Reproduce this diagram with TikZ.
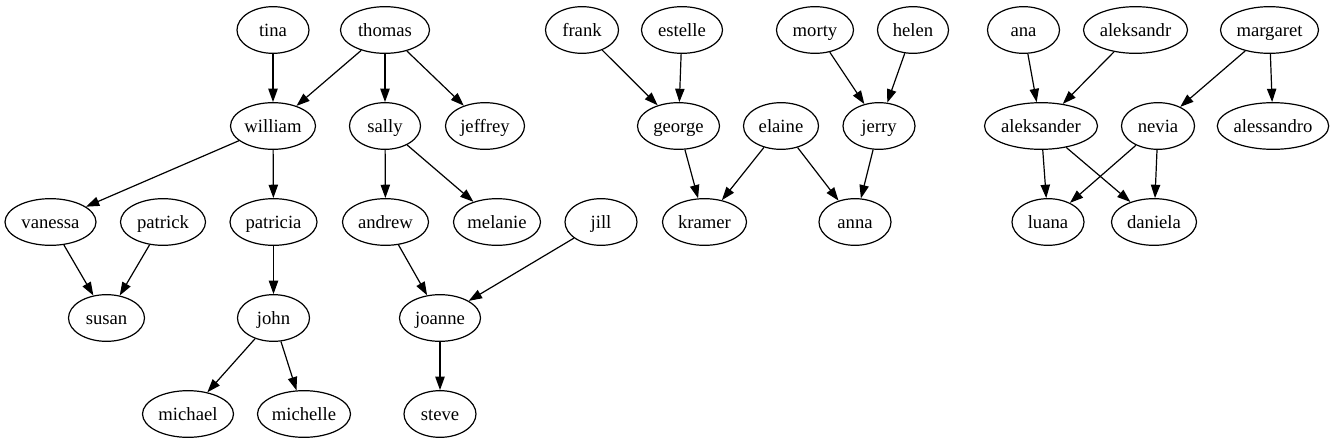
\documentclass[tikz,border=0pt]{standalone}
\usepackage{fontspec}
\setmainfont{Liberation Serif}
\usetikzlibrary{arrows.meta,shapes.geometric}
\begin{document}
\begin{tikzpicture}[x=0.75pt,y=-0.75pt,
  person/.style={ellipse,draw,line width=0.9pt,inner sep=0pt,minimum height=35pt,
    text height=11pt,text depth=1.4pt,
    font=\rmfamily\fontsize{14}{16}\selectfont},
  wd/.style={minimum width=#1*0.75pt},
  link/.style={line width=0.9pt,-{Triangle[length=10pt,width=7pt]}}]
\useasboundingbox (0,0) rectangle (1335,443);
% rank 1
\node[person,wd=72] (tina) at (273,30) {tina};
\node[person,wd=89] (thomas) at (385,30) {thomas};
\node[person,wd=73] (frank) at (582,30) {frank};
\node[person,wd=81] (estelle) at (682,30) {estelle};
\node[person,wd=77] (morty) at (815,30) {morty};
\node[person,wd=71] (helen) at (913,30) {helen};
\node[person,wd=72] (ana) at (1023.5,30) {ana};
\node[person,wd=104] (aleksandr) at (1135.5,30) {aleksandr};
\node[person,wd=98] (margaret) at (1269.5,30) {margaret};
% rank 2
\node[person,wd=85] (william) at (273,126) {william};
\node[person,wd=71] (sally) at (385,126) {sally};
\node[person,wd=79] (jeffrey) at (485,126) {jeffrey};
\node[person,wd=82] (george) at (678.5,126) {george};
\node[person,wd=75] (elaine) at (781,126) {elaine};
\node[person,wd=72] (jerry) at (879,126) {jerry};
\node[person,wd=113] (aleksander) at (1041,126) {aleksander};
\node[person,wd=73] (nevia) at (1158,126) {nevia};
\node[person,wd=111] (alessandro) at (1273,126) {alessandro};
% rank 3
\node[person,wd=91] (vanessa) at (50.5,222) {vanessa};
\node[person,wd=85] (patrick) at (163,222) {patrick};
\node[person,wd=87] (patricia) at (273.5,222) {patricia};
\node[person,wd=86] (andrew) at (385.5,222) {andrew};
\node[person,wd=87] (melanie) at (497,222) {melanie};
\node[person,wd=72] (jill) at (601,222) {jill};
\node[person,wd=84] (kramer) at (704.5,222) {kramer};
\node[person,wd=72] (anna) at (855,222) {anna};
\node[person,wd=72] (luana) at (1048,222) {luana};
\node[person,wd=85] (daniela) at (1154,222) {daniela};
% rank 4
\node[person,wd=76] (susan) at (106.5,318) {susan};
\node[person,wd=72] (john) at (273.5,318) {john};
\node[person,wd=81] (joanne) at (440,318) {joanne};
% rank 5
\node[person,wd=91] (michael) at (188,414) {michael};
\node[person,wd=93] (michelle) at (304,414) {michelle};
\node[person,wd=72] (steve) at (440,414) {steve};
% edges
\draw[link] (tina) -- (william);
\draw[link] (thomas) -- (william);
\draw[link] (thomas) -- (sally);
\draw[link] (thomas) -- (jeffrey);
\draw[link] (william) -- (vanessa);
\draw[link] (william) -- (patricia);
\draw[link] (sally) -- (andrew);
\draw[link] (sally) -- (melanie);
\draw[link] (vanessa) -- (susan);
\draw[link] (patrick) -- (susan);
\draw[link] (patricia) -- (john);
\draw[link] (andrew) -- (joanne);
\draw[link] (jill) -- (joanne);
\draw[link] (john) -- (michael);
\draw[link] (john) -- (michelle);
\draw[link] (joanne) -- (steve);
\draw[link] (frank) -- (george);
\draw[link] (estelle) -- (george);
\draw[link] (morty) -- (jerry);
\draw[link] (helen) -- (jerry);
\draw[link] (george) -- (kramer);
\draw[link] (elaine) -- (kramer);
\draw[link] (elaine) -- (anna);
\draw[link] (jerry) -- (anna);
\draw[link] (ana) -- (aleksander);
\draw[link] (aleksandr) -- (aleksander);
\draw[link] (margaret) -- (nevia);
\draw[link] (margaret) -- (alessandro);
\draw[link] (aleksander) -- (luana);
\draw[link] (aleksander) -- (daniela);
\draw[link] (nevia) -- (luana);
\draw[link] (nevia) -- (daniela);
\end{tikzpicture}
\end{document}
